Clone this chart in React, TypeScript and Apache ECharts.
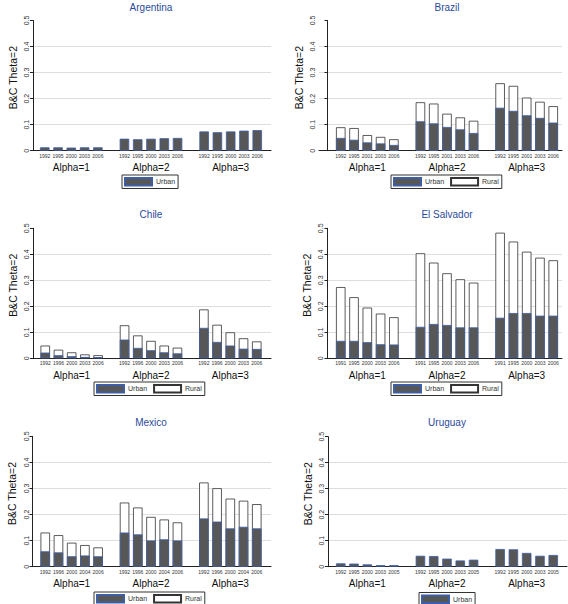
import React, { useEffect, useRef } from 'react';
import * as echarts from 'echarts';

const alphaLabels = ['Alpha=1', 'Alpha=2', 'Alpha=3'];
const yTicks = [0, 0.1, 0.2, 0.3, 0.4, 0.5];
const yAxisTitle = 'B&C Theta=2';

const yearsArgentina = ['1992', '1995', '2000', '2003', '2006'];
const yearsBrazil = ['1992', '1995', '2001', '2003', '2006'];
const yearsChile = ['1992', '1996', '2000', '2003', '2006'];
const yearsElSalvador = ['1991', '1995', '2000', '2003', '2006'];
const yearsMexico = ['1992', '1996', '2000', '2004', '2006'];
const yearsUruguay = ['1992', '1995', '2000', '2003', '2005'];

// values per alpha group (Alpha=1, Alpha=2, Alpha=3), 5 years each
// "urban" = urban contribution, "total" = urban + rural (top of the white segment)
const urbanArgentina = [
  [0.013, 0.013, 0.012, 0.013, 0.013],
  [0.046, 0.044, 0.046, 0.048, 0.049],
  [0.074, 0.071, 0.074, 0.077, 0.079],
];

const urbanBrazil = [
  [0.049, 0.042, 0.032, 0.028, 0.022],
  [0.113, 0.105, 0.091, 0.082, 0.068],
  [0.165, 0.153, 0.136, 0.126, 0.108],
];
const totalBrazil = [
  [0.090, 0.087, 0.060, 0.053, 0.044],
  [0.186, 0.181, 0.142, 0.128, 0.115],
  [0.259, 0.249, 0.204, 0.188, 0.171],
];

const urbanChile = [
  [0.022, 0.012, 0.008, 0.005, 0.004],
  [0.072, 0.040, 0.031, 0.023, 0.019],
  [0.117, 0.063, 0.049, 0.037, 0.036],
];
const totalChile = [
  [0.049, 0.033, 0.023, 0.015, 0.012],
  [0.127, 0.088, 0.067, 0.049, 0.041],
  [0.188, 0.129, 0.100, 0.077, 0.065],
];

const urbanElSalvador = [
  [0.067, 0.067, 0.062, 0.054, 0.053],
  [0.121, 0.132, 0.128, 0.119, 0.119],
  [0.156, 0.174, 0.174, 0.164, 0.164],
];
const totalElSalvador = [
  [0.274, 0.235, 0.195, 0.172, 0.158],
  [0.404, 0.368, 0.327, 0.304, 0.291],
  [0.483, 0.449, 0.410, 0.387, 0.377],
];

const urbanMexico = [
  [0.059, 0.055, 0.040, 0.043, 0.040],
  [0.131, 0.124, 0.101, 0.105, 0.101],
  [0.185, 0.173, 0.147, 0.153, 0.147],
];
const totalMexico = [
  [0.131, 0.121, 0.092, 0.083, 0.074],
  [0.246, 0.227, 0.191, 0.181, 0.170],
  [0.323, 0.301, 0.261, 0.253, 0.240],
];

const urbanUruguay = [
  [0.013, 0.012, 0.009, 0.006, 0.006],
  [0.042, 0.041, 0.031, 0.024, 0.027],
  [0.068, 0.067, 0.053, 0.042, 0.045],
];

const panels = [
  { title: 'Argentina', years: yearsArgentina, urban: urbanArgentina, total: null as number[][] | null },
  { title: 'Brazil', years: yearsBrazil, urban: urbanBrazil, total: totalBrazil },
  { title: 'Chile', years: yearsChile, urban: urbanChile, total: totalChile },
  { title: 'El Salvador', years: yearsElSalvador, urban: urbanElSalvador, total: totalElSalvador },
  { title: 'Mexico', years: yearsMexico, urban: urbanMexico, total: totalMexico },
  { title: 'Uruguay', years: yearsUruguay, urban: urbanUruguay, total: null as number[][] | null },
];

// layout (pixels)
const layouts = [
  { axisX: 33, barStart: 40, barEnd: 262, rightEnd: 271, top: 20.5, bottom: 150.7, titleY: 2, legendLeft: 122, legendTop: 175 },
  { axisX: 319, barStart: 336, barEnd: 558, rightEnd: 562, top: 20.5, bottom: 150.7, titleY: 2, legendLeft: 391, legendTop: 175 },
  { axisX: 33, barStart: 40.5, barEnd: 261.5, rightEnd: 271, top: 228.3, bottom: 358.3, titleY: 209.5, legendLeft: 94, legendTop: 382 },
  { axisX: 327, barStart: 336, barEnd: 558, rightEnd: 562, top: 228.3, bottom: 358.3, titleY: 209.5, legendLeft: 391, legendTop: 382 },
  { axisX: 32.5, barStart: 40.5, barEnd: 261.5, rightEnd: 271, top: 436.3, bottom: 566.7, titleY: 417.5, legendLeft: 94, legendTop: 592 },
  { axisX: 328, barStart: 336, barEnd: 558, rightEnd: 567, top: 436.7, bottom: 566.7, titleY: 417.5, legendLeft: 419, legendTop: 592.5 },
];

const W = 568;
const H = 604;
const FONT = 'Liberation Sans, Arial, Helvetica, sans-serif';
const BAR_W = 9.5;

function buildOption() {
  const grid: any[] = [];
  const xAxis: any[] = [];
  const yAxis: any[] = [];
  const series: any[] = [];
  const title: any[] = [];
  const legend: any[] = [];

  panels.forEach((p, pi) => {
    const L = layouts[pi];
    const pitch = (L.barEnd - L.barStart - BAR_W) / 16;
    const c1 = L.barStart + BAR_W / 2;
    const cLast = L.barEnd - BAR_W / 2;
    const xmin = 1 - (c1 - L.axisX) / pitch;
    const xmax = 17 + (L.rightEnd - cLast) / pitch;

    grid.push({ left: L.axisX, top: L.top, width: L.rightEnd - L.axisX, height: L.bottom - L.top });
    xAxis.push({
      type: 'value', gridIndex: pi, min: xmin, max: xmax,
      axisLine: { show: true, onZero: false, lineStyle: { color: '#222', width: 1 } },
      axisTick: { show: false }, axisLabel: { show: false }, splitLine: { show: false },
    });
    yAxis.push({
      type: 'value', gridIndex: pi, min: yTicks[0], max: yTicks[yTicks.length - 1], interval: 0.1,
      name: yAxisTitle, nameLocation: 'middle', nameGap: 15,
      nameTextStyle: { fontSize: 10.5, color: '#111', fontFamily: FONT, padding: [0, 0, 0, 16] },
      axisLine: { show: true, lineStyle: { color: '#222', width: 1 } },
      axisTick: { show: true, length: 3, lineStyle: { color: '#222' } },
      axisLabel: { rotate: 90, fontSize: 7, color: '#333', margin: 3, fontFamily: FONT },
      splitLine: { show: true, showMinLine: false, showMaxLine: false, lineStyle: { color: '#dedede', width: 1 } },
    });
    title.push({
      text: p.title, left: (L.barStart + L.barEnd) / 2, top: L.titleY, textAlign: 'center', padding: 0,
      textStyle: { fontSize: 10, fontWeight: 'normal', color: '#2b4a9b', fontFamily: FONT },
    });
    legend.push({
      data: p.total ? ['Urban', 'Rural'] : ['Urban'],
      left: L.legendLeft, top: L.legendTop, orient: 'horizontal',
      icon: 'rect', itemWidth: 27, itemHeight: 7.5, itemGap: 6,
      padding: [2, 3, 2, 2], borderColor: '#333', borderWidth: 1, borderRadius: 0,
      textStyle: { fontSize: 7, color: '#333', fontFamily: FONT, padding: [0, 0, 0, -1] },
      selectedMode: false,
    });

    const urbanData: any[] = [];
    const totalData: any[] = [];
    p.urban.forEach((grp, g) => {
      grp.forEach((v, i) => {
        urbanData.push([g * 6 + i + 1, v]);
        if (p.total) totalData.push([g * 6 + i + 1, p.total[g][i]]);
      });
    });

    if (p.total) {
      // white "Rural" part: drawn to the full bar height, urban drawn over its lower part
      series.push({
        type: 'bar', name: 'Rural', xAxisIndex: pi, yAxisIndex: pi,
        barWidth: BAR_W, barGap: '-100%', data: totalData,
        itemStyle: { color: '#ffffff', borderColor: '#333333', borderWidth: 0.8 },
        emphasis: { disabled: true },
      });
    }
    series.push({
      type: 'bar', name: 'Urban', xAxisIndex: pi, yAxisIndex: pi,
      barWidth: BAR_W, barGap: '-100%', data: urbanData,
      itemStyle: { color: '#575757', borderColor: '#3e5ea6', borderWidth: 0.8 },
      label: {
        show: true, position: 'bottom', distance: 1.5,
        formatter: (prm: any) => {
          const idx = prm.dataIndex;
          const g = Math.floor(idx / 5);
          const i = idx % 5;
          const yr = '{y|' + p.years[i] + '}';
          return i === 2 ? yr + '\n{a|' + alphaLabels[g] + '}' : yr;
        },
        rich: {
          y: { fontSize: 5, lineHeight: 7, color: '#333', fontFamily: FONT },
          a: { fontSize: 10, lineHeight: 17, color: '#111', fontFamily: FONT },
        },
      },
      emphasis: { disabled: true },
    });
  });

  return {
    animation: false,
    backgroundColor: '#ffffff',
    textStyle: { fontFamily: FONT },
    title, legend, grid, xAxis, yAxis, series,
  };
}

export default function App() {
  const ref = useRef<HTMLDivElement>(null);
  useEffect(() => {
    if (!ref.current) return;
    const chart = echarts.init(ref.current, null, { renderer: 'svg' });
    chart.setOption(buildOption() as any);
    return () => chart.dispose();
  }, []);
  return (
    <div
      ref={ref}
      style={{ position: 'fixed', left: 0, top: 0, width: W, height: H, background: '#fff' }}
    />
  );
}
